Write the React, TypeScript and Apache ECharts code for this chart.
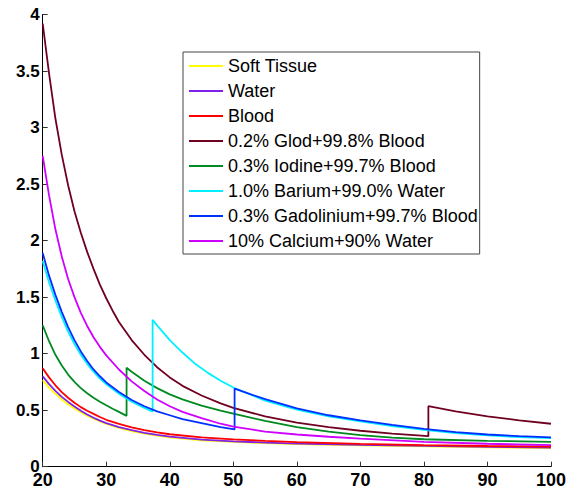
import React, { useEffect, useRef } from "react";
import * as echarts from "echarts";

type Pt = [number, number];

const seriesNames = [
  "Soft Tissue",
  "Water",
  "Blood",
  "0.2% Glod+99.8% Blood",
  "0.3% Iodine+99.7% Blood",
  "1.0% Barium+99.0% Water",
  "0.3% Gadolinium+99.7% Blood",
  "10% Calcium+90% Water",
];

const seriesColors = [
  "#ffff00",
  "#8020e8",
  "#ff0000",
  "#700020",
  "#008a20",
  "#00f0ff",
  "#0030ff",
  "#d000ff",
];

const xTicks = [20, 30, 40, 50, 60, 70, 80, 90, 100];

const softTissue: Pt[] = [
  [20, 0.765], [21, 0.7], [22, 0.645], [23, 0.595], [24, 0.553], [25, 0.515], [26, 0.482],
  [27, 0.452], [28, 0.424], [29, 0.4], [30, 0.378], [32, 0.343], [34, 0.315], [36, 0.292],
  [38, 0.274], [40, 0.259], [45, 0.234], [50, 0.219], [55, 0.208], [60, 0.2], [70, 0.188],
  [80, 0.179], [90, 0.171], [100, 0.165],
];

const water: Pt[] = [
  [20, 0.8], [21, 0.73], [22, 0.67], [23, 0.618], [24, 0.573], [25, 0.533], [26, 0.495],
  [27, 0.462], [28, 0.433], [29, 0.408], [30, 0.386], [32, 0.351], [34, 0.323], [36, 0.3],
  [38, 0.281], [40, 0.266], [45, 0.24], [50, 0.224], [55, 0.213], [60, 0.205], [70, 0.193],
  [80, 0.184], [90, 0.176], [100, 0.17],
];

const blood: Pt[] = [
  [20, 0.87], [21, 0.79], [22, 0.72], [23, 0.66], [24, 0.61], [25, 0.565], [26, 0.527],
  [27, 0.495], [28, 0.467], [29, 0.44], [30, 0.415], [32, 0.378], [34, 0.348], [36, 0.323],
  [38, 0.303], [40, 0.287], [45, 0.26], [50, 0.242], [55, 0.228], [60, 0.217], [70, 0.202],
  [80, 0.191], [90, 0.183], [100, 0.177],
];

const goldBlood: Pt[] = [
  [20, 3.92], [21, 3.48], [22, 3.08], [23, 2.76], [24, 2.49], [25, 2.26], [26, 2.07],
  [27, 1.9], [28, 1.75], [29, 1.61], [30, 1.49], [31, 1.38], [32, 1.28], [34, 1.12],
  [36, 0.99], [38, 0.88], [40, 0.79], [42, 0.715], [45, 0.63], [48, 0.56], [50, 0.52],
  [55, 0.445], [60, 0.39], [65, 0.35], [70, 0.318], [75, 0.292], [80.7, 0.27],
  [80.7, 0.535], [85, 0.49], [90, 0.445], [95, 0.41], [100, 0.38],
];

const iodineBlood: Pt[] = [
  [20, 1.25], [21, 1.11], [22, 0.99], [23, 0.895], [24, 0.815], [25, 0.75], [26, 0.695],
  [27, 0.65], [28, 0.61], [29, 0.575], [30, 0.543], [31, 0.513], [32, 0.485], [33.2, 0.45],
  [33.2, 0.875], [34, 0.84], [36, 0.76], [38, 0.695], [40, 0.64], [42, 0.595], [45, 0.54],
  [48, 0.495], [50, 0.47], [55, 0.405], [60, 0.35], [65, 0.31], [70, 0.28], [75, 0.258],
  [80, 0.243], [90, 0.229], [100, 0.22],
];

const bariumWater: Pt[] = [
  [20, 1.82], [21, 1.63], [22, 1.47], [23, 1.325], [24, 1.195], [25, 1.085], [26, 0.99],
  [27, 0.91], [28, 0.84], [29, 0.78], [30, 0.73], [32, 0.645], [34, 0.575], [36, 0.52],
  [37.3, 0.487], [37.3, 1.3], [38, 1.25], [40, 1.12], [42, 1.01], [44, 0.91], [46, 0.83],
  [48, 0.76], [50, 0.7], [55, 0.585], [60, 0.505], [65, 0.445], [70, 0.4], [75, 0.36],
  [80, 0.325], [85, 0.297], [90, 0.277], [95, 0.262], [100, 0.252],
];

const gadoliniumBlood: Pt[] = [
  [20, 1.89], [21, 1.69], [22, 1.52], [23, 1.37], [24, 1.235], [25, 1.12], [26, 1.02],
  [27, 0.935], [28, 0.86], [29, 0.8], [30, 0.745], [32, 0.66], [34, 0.59], [36, 0.535],
  [38, 0.49], [40, 0.455], [42, 0.42], [45, 0.385], [48, 0.35], [50.2, 0.33],
  [50.2, 0.69], [52, 0.655], [55, 0.597], [60, 0.515], [65, 0.455], [70, 0.41],
  [75, 0.37], [80, 0.335], [85, 0.305], [90, 0.285], [95, 0.27], [100, 0.26],
];

const calciumWater: Pt[] = [
  [20, 2.75], [21, 2.4], [22, 2.1], [23, 1.86], [24, 1.66], [25, 1.5], [26, 1.36],
  [27, 1.245], [28, 1.145], [29, 1.06], [30, 0.985], [32, 0.86], [34, 0.755], [36, 0.67],
  [38, 0.595], [40, 0.535], [42, 0.485], [45, 0.43], [48, 0.38], [50, 0.355], [55, 0.31],
  [60, 0.285], [65, 0.265], [70, 0.248], [80, 0.22], [90, 0.203], [100, 0.19],
];

const allData: Pt[][] = [
  softTissue,
  water,
  blood,
  goldBlood,
  iodineBlood,
  bariumWater,
  gadoliniumBlood,
  calciumWater,
];

const FONT = "'Liberation Sans', Arial, sans-serif";

export default function App() {
  const ref = useRef<HTMLDivElement>(null);

  useEffect(() => {
    if (!ref.current) return;
    const chart = echarts.init(ref.current, undefined, { renderer: "svg" });
    chart.setOption({
      animation: false,
      backgroundColor: "#ffffff",
      grid: { left: 42.7, right: 20, top: 14.5, bottom: 28.3, containLabel: false },
      legend: {
        orient: "vertical",
        left: 183,
        top: 52,
        backgroundColor: "#ffffff",
        borderColor: "#444444",
        borderWidth: 1,
        padding: [5, 2, 4, 6],
        itemWidth: 34,
        itemHeight: 2,
        itemGap: 7,
        icon: "rect",
        textStyle: { fontSize: 18, fontFamily: FONT, lineHeight: 18, color: "#000000" },
        data: seriesNames,
      },
      xAxis: {
        type: "value",
        min: 20,
        max: 100,
        interval: 10,
        axisLine: { show: true, lineStyle: { color: "#000000", width: 1 } },
        axisTick: { show: true, inside: true, length: 5, lineStyle: { color: "#333333" } },
        axisLabel: {
          show: true,
          margin: 4,
          fontSize: 18,
          fontWeight: "bold",
          fontFamily: FONT,
          color: "#000000",
          customValues: xTicks,
        },
        splitLine: { show: false },
      },
      yAxis: {
        type: "value",
        min: 0,
        max: 4,
        interval: 0.5,
        axisLine: { show: true, onZero: false, lineStyle: { color: "#000000", width: 1 } },
        axisTick: { show: true, inside: true, length: 5, lineStyle: { color: "#333333" } },
        axisLabel: {
          show: true,
          margin: 3,
          fontSize: 17,
          fontWeight: "bold",
          fontFamily: FONT,
          color: "#000000",
        },
        splitLine: { show: false },
      },
      series: seriesNames.map((name, i) => ({
        name,
        type: "line",
        data: allData[i],
        showSymbol: false,
        symbol: "none",
        color: seriesColors[i],
        lineStyle: { color: seriesColors[i], width: 1.8 },
        itemStyle: { color: seriesColors[i] },
        emphasis: { disabled: true },
        z: 2 + i,
      })),
    });
    return () => chart.dispose();
  }, []);

  return (
    <div
      ref={ref}
      style={{ position: "absolute", left: 0, top: 0, width: 571, height: 495 }}
    />
  );
}
